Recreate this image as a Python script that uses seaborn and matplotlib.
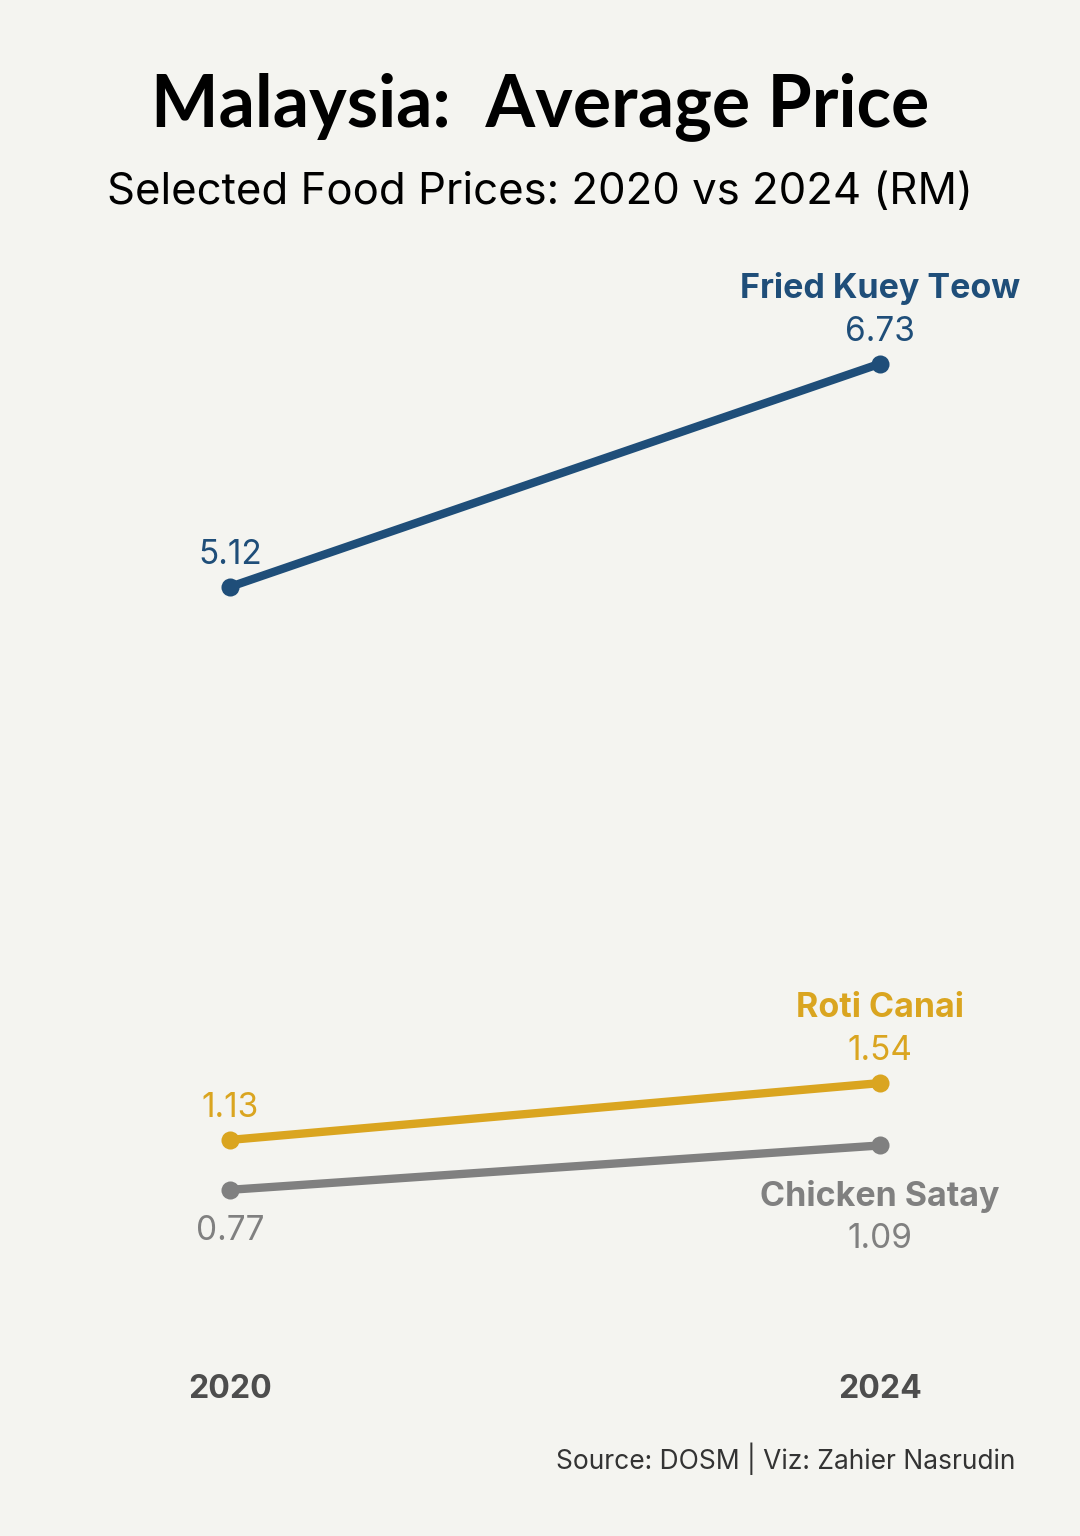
import pandas as pd
import seaborn as sns
import matplotlib.pyplot as plt

years = [2020, 2024]
items = ['Fried Kuey Teow', 'Roti Canai', 'Chicken Satay']
kuey_teow = [5.12, 6.73]
roti_canai = [1.13, 1.54]
chicken_satay = [0.77, 1.09]
colors = {'Fried Kuey Teow': '#1f4e79', 'Roti Canai': '#daa520', 'Chicken Satay': '#808080'}

df = pd.DataFrame({
    'year': years * 3,
    'price': kuey_teow + roti_canai + chicken_satay,
    'item': [i for i in items for _ in years],
})

bg = '#f4f4f0'
sns.set_theme(style='white')
plt.rcParams['font.family'] = ['Inter', 'DejaVu Sans']

fig = plt.figure(figsize=(10.8, 15.36), dpi=100, facecolor=bg)
ax = fig.add_axes([0.0625, 0.1559, 0.9028, 0.6768])
ax.set_facecolor(bg)

sns.lineplot(data=df, x='year', y='price', hue='item', palette=colors,
             marker='o', markersize=13, markeredgewidth=0, linewidth=6,
             legend=False, ax=ax)

ax.set_xlim(2019, 2025)
ax.set_ylim(0, 7.5)
ax.set_xticks([])
ax.set_yticks([])
ax.set_xlabel('')
ax.set_ylabel('')
sns.despine(ax=ax, left=True, bottom=True)

# (item, offset for 2020 value, offset for 2024 value, offset for 2024 name)
placement = {
    'Fried Kuey Teow': (23, 23, 54),
    'Roti Canai': (23, 23, 54),
    'Chicken Satay': (-30, -67, -37),
}
for item, vals in zip(items, [kuey_teow, roti_canai, chicken_satay]):
    c = colors[item]
    o20, o24, oname = placement[item]
    ax.annotate(f'{vals[0]:.2f}', (years[0], vals[0]), xytext=(0, o20),
                textcoords='offset points', ha='center', va='center',
                fontsize=24, color=c)
    ax.annotate(f'{vals[1]:.2f}', (years[1], vals[1]), xytext=(0, o24),
                textcoords='offset points', ha='center', va='center',
                fontsize=24, color=c)
    ax.annotate(item, (years[1], vals[1]), xytext=(0, oname),
                textcoords='offset points', ha='center', va='center',
                fontsize=24.5, fontweight='bold', color=c)

for y in years:
    fig.text((y - 2019) / 6 * 0.9028 + 0.0625, 1 - 1390 / 1536, str(y),
             ha='center', va='center', fontsize=23, fontweight='bold', color='#4d4d4d')

fig.text(0.5, 1 - 107 / 1536, 'Malaysia:  Average Price', ha='center', va='center',
         fontsize=51.5, fontweight='bold', family=['Lato', 'DejaVu Sans'], color='black')
fig.text(0.5, 1 - 193 / 1536, 'Selected Food Prices: 2020 vs 2024 (RM)', ha='center',
         va='center', fontsize=31.5, color='black')
fig.text(1015 / 1080, 1 - 1459 / 1536, 'Source: DOSM | Viz: Zahier Nasrudin', ha='right',
         va='center', fontsize=19, color='#333333')

fig.savefig('out.png', dpi=100, facecolor=bg)
